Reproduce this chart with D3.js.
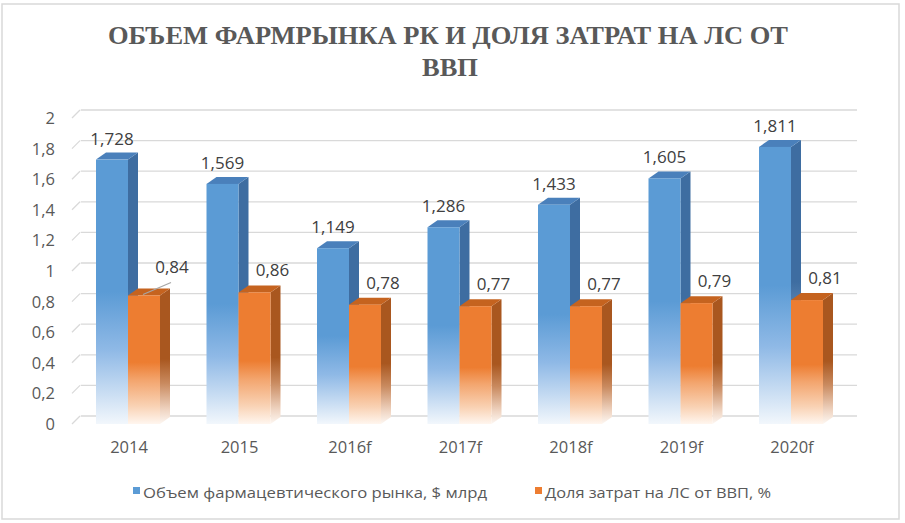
<!DOCTYPE html>
<html><head><meta charset="utf-8">
<script src="https://cdn.jsdelivr.net/npm/d3@7"></script>
<style>body{margin:0;background:#fff}svg{display:block}
.ttl{font-family:"Liberation Serif","DejaVu Serif","Times New Roman",Times,serif;}</style>
</head><body>
<svg id="c" width="905" height="523"></svg>
<script>
const categories = ["2014","2015","2016f","2017f","2018f","2019f","2020f"];
const marketValues = [1.728,1.569,1.149,1.286,1.433,1.605,1.811];
const shareValues = [0.84,0.86,0.78,0.77,0.77,0.79,0.81];
const marketLabels = ["1,728","1,569","1,149","1,286","1,433","1,605","1,811"];
const shareLabels = ["0,84","0,86","0,78","0,77","0,77","0,79","0,81"];
const yTicks = [0,0.2,0.4,0.6,0.8,1,1.2,1.4,1.6,1.8,2];
const yTickLabels = ["0","0,2","0,4","0,6","0,8","1","1,2","1,4","1,6","1,8","2"];
const seriesNames = ["Объем фармацевтического рынка, $ млрд","Доля затрат на ЛС от ВВП, %"];
const titleLines = ["ОБЪЕМ ФАРМРЫНКА РК И ДОЛЯ ЗАТРАТ НА ЛС ОТ","ВВП"];

const svg = d3.select("#c");
const font = "'Open Sans', 'Noto Sans', sans-serif";

// border
svg.append("rect").attr("x",2).attr("y",4).attr("width",897).attr("height",515)
  .attr("fill","#fff").attr("stroke","#d9d9d9").attr("stroke-width",1.5);

const y = d3.scaleLinear().domain([0,2]).range([424,118]);
const x = d3.scaleBand().domain(categories).range([72.75,846.25]).padding(0);
const bw = 32, dx = 10, dy = -7, gdx = 8, gdy = -8;

// defs / gradients
const defs = svg.append("defs");
function grad(id, stops){
  const g = defs.append("linearGradient").attr("id",id).attr("x1",0).attr("y1",0).attr("x2",0).attr("y2",1);
  stops.forEach(s=>g.append("stop").attr("offset",s[0]).attr("stop-color",s[1]));
}
grad("bFront",[[0,"#5b9bd5"],[0.5,"#5b9bd5"],[0.72,"#8fb9e6"],[0.9,"#cfe1f4"],[1,"#f2f7fc"]]);
grad("bSide",[[0,"#3e6da1"],[0.5,"#3e6da1"],[0.72,"#7fa3c9"],[0.9,"#c9d9ea"],[1,"#f4f7fb"]]);
grad("oFront",[[0,"#ed7d31"],[0.52,"#ed7d31"],[0.66,"#f3a56e"],[0.86,"#f9d2b4"],[1,"#fff6ef"]]);
grad("oSide",[[0,"#a9571f"],[0.52,"#a9571f"],[0.7,"#c98a5f"],[0.9,"#f0d6c4"],[1,"#fdf7f2"]]);

// back wall gridlines with floor stubs
const grid = svg.append("g");
yTicks.forEach(t=>{
  const yy = y(t);
  grid.append("line").attr("x1",x.range()[0]+gdx).attr("x2",857).attr("y1",yy+gdy).attr("y2",yy+gdy)
    .attr("stroke","#d9d9d9").attr("stroke-width",1.3);
  grid.append("line").attr("x1",72).attr("y1",yy).attr("x2",72+gdx).attr("y2",yy+gdy)
    .attr("stroke","#d9d9d9").attr("stroke-width",1.3);
});

// y tick labels
svg.append("g").selectAll("text").data(yTicks).join("text")
  .attr("x",55).attr("y",d=>y(d)).attr("dy","0.36em").attr("text-anchor","end")
  .attr("font-family",font).attr("font-size",16.5).attr("fill","#595959")
  .text((d,i)=>yTickLabels[i]);

// bars
function bar3d(g, x0, v, front, side, top){
  const yt = y(v), yb = y(0), x1 = x0 + bw;
  g.append("polygon").attr("points",[[x1,yt],[x1+dx,yt+dy],[x1+dx,yb+dy],[x1,yb]].join(" "))
    .attr("fill",side);
  g.append("polygon").attr("points",[[x0,yt],[x0+dx,yt+dy],[x1+dx,yt+dy],[x1,yt]].join(" "))
    .attr("fill",top);
  g.append("rect").attr("x",x0).attr("y",yt).attr("width",bw).attr("height",yb-yt).attr("fill",front);
}
const bars = svg.append("g");
categories.forEach((c,i)=>{
  const cx = x(c) + x.bandwidth()/2;
  bar3d(bars, cx-bw, marketValues[i], "url(#bFront)", "url(#bSide)", "#4a80bb");
  bar3d(bars, cx, shareValues[i], "url(#oFront)", "url(#oSide)", "#c5631f");
});

// data labels
const lab = svg.append("g").attr("font-family",font).attr("font-size",17).attr("fill","#404040").attr("text-anchor","middle");
categories.forEach((c,i)=>{
  const cx = x(c) + x.bandwidth()/2;
  lab.append("text").attr("x",cx-bw/2).attr("y",y(marketValues[i])-15).text(marketLabels[i]);
  let ox = cx + bw + 2, oy = y(shareValues[i]) - 16;
  if(i===0){
    // label moved off the bar with a leader line
    const lx = ox + 10, ly = oy - 6;
    svg.append("line").attr("x1",cx+bw/2-1).attr("y1",y(shareValues[i])-1).attr("x2",lx-1).attr("y2",ly+9)
      .attr("stroke","#a6a6a6").attr("stroke-width",1.3);
    ox = lx; oy = ly;
  }
  lab.append("text").attr("x",ox).attr("y",oy).text(shareLabels[i]);
});

// x labels
svg.append("g").selectAll("text").data(categories).join("text")
  .attr("x",d=>x(d)+x.bandwidth()/2+1).attr("y",453).attr("text-anchor","middle")
  .attr("font-family",font).attr("font-size",16.5).attr("fill","#595959").text(d=>d);

// legend
const leg = svg.append("g").attr("font-family",font).attr("font-size",15).attr("fill","#595959");
const legItems = [{x:133, w:344, c:"#5b9bd5"},{x:535, w:226, c:"#ed7d31"}];
legItems.forEach((L,i)=>{
  leg.append("rect").attr("x",L.x).attr("y",487).attr("width",7).attr("height",7).attr("fill",L.c);
  leg.append("text").attr("x",L.x+10).attr("y",498).attr("textLength",L.w).attr("lengthAdjust","spacingAndGlyphs")
    .text(seriesNames[i]);
});

// title
const tg = svg.append("g").attr("class","ttl")
  .attr("font-weight","bold").attr("font-size",26).attr("fill","#595959").attr("text-anchor","middle");
const t1 = tg.append("text").attr("class","ttl").attr("x",448).attr("y",44).text(titleLines[0]);
const t2 = tg.append("text").attr("class","ttl").attr("x",450).attr("y",76).text(titleLines[1]);
const nat1 = t1.node().getComputedTextLength();
const k = 680 / nat1;
t1.attr("textLength",680).attr("lengthAdjust","spacingAndGlyphs");
t2.attr("textLength",t2.node().getComputedTextLength()*k).attr("lengthAdjust","spacingAndGlyphs");
</script>
</body></html>
